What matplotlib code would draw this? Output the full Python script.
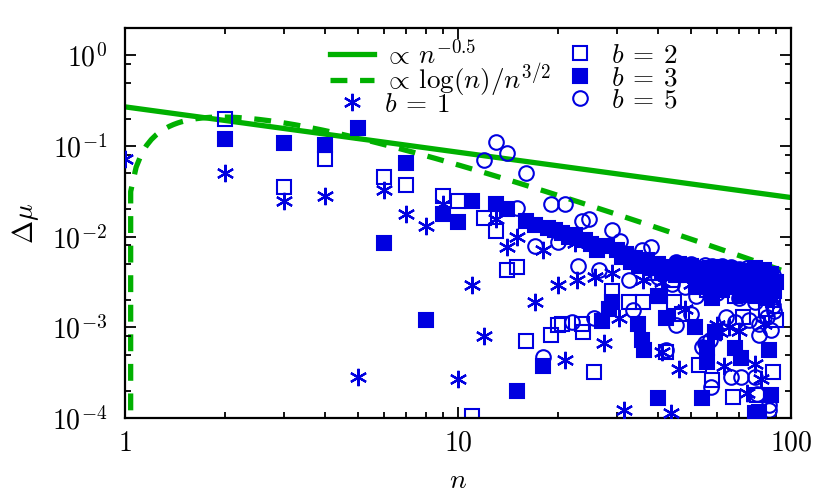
import numpy as np
import matplotlib
matplotlib.use('Agg')
import matplotlib.pyplot as plt
from matplotlib.ticker import LogLocator, NullFormatter, FixedLocator, FuncFormatter, LogFormatterSciNotation

plt.rcParams.update({
    'font.family': 'serif',
    'font.serif': ['cmr10'],
    'mathtext.fontset': 'cm',
    'axes.unicode_minus': False,
    'axes.formatter.use_mathtext': True,
})

# ---------------- data ----------------
# b = 1 (asterisks)
n_b1 = [1, 2, 3, 4, 5, 6, 7, 8, 9, 10, 11, 12, 13, 14, 15, 17, 18, 20, 21, 22.4,
        22.7, 25.6, 25.7, 27.5, 29, 30.5, 31.6, 36, 41, 41, 43.6, 46, 48, 50, 55, 60,
        61, 63, 64, 65, 70, 70, 74, 76, 78, 81, 83, 85, 88]
dmu_b1 = [0.071, 0.050, 0.025, 0.028, 0.00028, 0.033, 0.018, 0.013, 0.023, 0.00027,
          0.0029, 0.0008, 0.0155, 0.0077, 0.010, 0.0019, 0.0071, 0.0029, 0.00044, 0.0085,
          0.0033, 0.0078, 0.0036, 0.00068, 0.0040, 0.00126, 0.000123, 0.0033, 0.0032, 0.00053,
          0.000114, 0.00035, 0.0016, 0.0030, 0.0036, 0.00105, 0.00088, 0.00037, 0.0027, 0.0010,
          0.0035, 0.0009, 0.00019, 0.0026, 0.00039, 0.00027, 0.0011, 0.0030, 0.0020]

# b = 2 (open squares)
n_b2 = [2, 3, 4, 6, 7, 9, 10, 11, 12, 13, 14, 15, 16, 19, 20, 20.5, 23.5, 23.8, 25.6,
        29, 32.6, 36, 38, 40, 42, 44, 44.6, 47, 50, 53, 56, 58, 62, 67, 68, 72, 75, 79,
        82, 84, 88, 88, 90]
dmu_b2 = [0.20, 0.035, 0.071, 0.046, 0.037, 0.028, 0.0247, 0.000105, 0.016, 0.0115,
          0.0043, 0.0046, 0.0007, 0.00082, 0.00106, 0.0011, 0.0011, 0.00088, 0.00032,
          0.0025, 0.0019, 0.0019, 0.0040, 0.0022, 0.00053, 0.0033, 0.0019, 0.0014, 0.0041,
          0.00038, 0.0026, 0.00026, 0.0038, 0.00017, 0.0022, 0.0013, 0.0034, 0.00018,
          0.0027, 0.0016, 0.00032, 0.0020, 0.0012]

# b = 3 (filled squares)
n_b3 = [2, 3, 4, 5, 6, 7, 8, 9, 10, 11, 13, 14, 15, 16, 17, 18, 18.6, 19.5, 20.5,
        21.5, 22.4, 24, 25, 26.2, 27, 28, 28.5, 29, 30, 31, 32, 33, 34, 34.6, 35,
        35.7, 36.3, 37, 38, 39.8, 40, 40.5, 41, 42, 43, 45, 46, 47, 48, 49, 50, 51.5,
        52, 52, 53, 54, 54, 55, 56, 56, 56, 57, 58, 58, 59, 60, 61, 62, 62, 63, 64, 65,
        66, 67, 68, 68, 69, 70, 71, 71, 72, 73, 74, 75, 76, 77, 78, 78, 79, 79, 80, 80,
        81, 82, 83, 84, 84, 85, 86, 86, 87, 87, 88, 89, 90]
dmu_b3 = [0.119, 0.107, 0.102, 0.157, 0.0085, 0.065, 0.0012, 0.018, 0.0145, 0.0247,
          0.023, 0.020, 0.0002, 0.015, 0.0134, 0.00037, 0.0124, 0.0119, 0.011,
          0.0098, 0.0105, 0.0092, 0.0083, 0.0072, 0.00118, 0.0078, 0.0016, 0.0019, 0.0072,
          0.0060, 0.0065, 0.0052, 0.0058, 0.0011, 0.0048,
          0.00072, 0.00056, 0.0055, 0.0045, 0.000166, 0.0050, 0.0022, 0.0040, 0.00127,
          0.0046, 0.0038, 0.0050, 0.0045, 0.0043, 0.0038, 0.0047, 0.00101,
          0.0036, 0.0028, 0.0041, 0.0044, 0.000166, 0.0033, 0.0030, 0.00059, 0.00041,
          0.0045, 0.0041, 0.0021, 0.00088, 0.0046, 0.0039, 0.0034, 0.0026, 0.0031, 0.0040,
          0.0044, 0.0028, 0.0035, 0.0042, 0.00059, 0.0029, 0.0036, 0.00046, 0.0023,
          0.0025, 0.0042, 0.0039, 0.0036, 0.0032, 0.0027, 0.0045, 0.000113, 0.0022,
          0.0001, 0.0030, 0.000115, 0.0034, 0.0040, 0.0043, 0.0024, 0.0021, 0.0029,
          0.0035, 0.00056, 0.00018, 0.0039, 0.0028, 0.0025, 0.0032]

# b = 5 (open circles)
n_b5 = [12, 13, 14, 15, 16, 17, 18, 19, 20, 21, 22, 23, 23.6, 24.7, 25.6, 26.6, 29,
        30.6, 32.6, 33.5, 35.7, 38, 40, 42, 44, 45, 45, 47, 48, 50, 50, 52, 53, 54, 55,
        55, 57, 57.6, 58, 59, 60, 62, 64, 64, 66, 66, 68, 69, 70, 70, 71, 73, 74, 75,
        77, 78, 78, 79, 80, 80, 80, 82, 84, 85, 85, 86, 86, 86, 87, 88, 88, 89, 89]
dmu_b5 = [0.07, 0.11, 0.083, 0.0205, 0.05, 0.0079, 0.00047, 0.0228, 0.0087, 0.0228,
          0.00115, 0.0047, 0.015, 0.0155, 0.00126, 0.0043, 0.0118,
          0.0089, 0.0033, 0.00155, 0.0071, 0.0077, 0.0036, 0.00056, 0.0030, 0.0052, 0.00105,
          0.0041, 0.0028, 0.0050, 0.0014, 0.0022, 0.0035, 0.00061, 0.0049, 0.00068,
          0.00072, 0.00022, 0.0047, 0.0031, 0.0024, 0.0048, 0.0034, 0.0013, 0.0046, 0.00028,
          0.00115, 0.0032, 0.0044, 0.0021, 0.00028, 0.0028, 0.0045, 0.0012,
          0.0035, 0.00028, 0.0019, 0.000185, 0.0042, 0.00083, 0.0011, 0.0030, 0.0040,
          0.0023, 0.0013, 0.000123, 0.00014, 0.0027, 0.00093, 0.0038, 0.0017, 0.0015, 0.0031]

# amplitudes of the two reference curves
amp_sqrt = 0.27
amp_log = 0.85

# ---------------- plot ----------------
blue = '#0000e0'
green = '#00b000'

fig = plt.figure(figsize=(8.3, 4.98), dpi=100)
ax = fig.add_axes([125/830, 80/498, 666/830, 390/498])

n_th = np.arange(1.0, 100.02, 0.04)
l1, = ax.plot(n_th, amp_sqrt * n_th**-0.5, color=green, lw=3.8, zorder=1)
l2, = ax.plot(n_th, amp_log * np.log(n_th) / n_th**1.5, color=green, lw=3.8,
              ls=(0, (3.2, 2.4)), zorder=1)

ms = 10.5
h1, = ax.plot(n_b1, dmu_b1, ls='none', marker=(6, 2, 0), ms=12.5, mec=blue, mew=1.6,
              color=blue, zorder=3)
h2, = ax.plot(n_b2, dmu_b2, ls='none', marker='s', ms=ms, mfc='none', mec=blue, mew=1.5,
              zorder=2)
h5, = ax.plot(n_b5, dmu_b5, ls='none', marker='o', ms=ms, mfc='none', mec=blue, mew=1.5,
              zorder=2)
h3, = ax.plot(n_b3, dmu_b3, ls='none', marker='s', ms=ms, mfc=blue, mec=blue, mew=1.5,
              zorder=4)

ax.set_xscale('log')
ax.set_yscale('log')
ax.set_xlim(1, 100)
ax.set_ylim(1e-4, 2.0)

ax.xaxis.set_major_locator(FixedLocator([1, 10, 100]))
ax.xaxis.set_major_formatter(FuncFormatter(lambda v, p: '$%g$' % v))
ax.xaxis.set_minor_locator(LogLocator(base=10, subs=np.arange(2, 10), numticks=20))
ax.xaxis.set_minor_formatter(NullFormatter())

ax.yaxis.set_major_locator(LogLocator(base=10, numticks=20))
ax.yaxis.set_major_formatter(LogFormatterSciNotation())
ax.yaxis.set_minor_locator(LogLocator(base=10, subs=[2, 5, 8], numticks=20))
ax.yaxis.set_minor_formatter(NullFormatter())

ax.tick_params(which='both', direction='in', top=True, right=True, width=1.3,
               labelsize=20)
ax.tick_params(axis='x', which='major', pad=9)
ax.tick_params(axis='y', which='major', pad=13)
ax.tick_params(which='major', length=7.7)
ax.tick_params(which='minor', length=4.0)
for s in ax.spines.values():
    s.set_linewidth(1.6)

ax.set_xlabel('$n$', fontsize=20, labelpad=8)
ax.set_ylabel(r'$\Delta\mu$', fontsize=20, labelpad=8)

# legend: two columns placed independently so that their rows line up
leg1 = ax.legend([l1, l2, h1],
                 [r'$\propto\, n^{-0.5}$', r'$\propto\, \log(n)/n^{3/2}$', r'$b\:=\:1$'],
                 frameon=False, fontsize=19.5, loc='upper left',
                 bbox_to_anchor=(0.304, 0.983), handlelength=1.6, handletextpad=0.4,
                 labelspacing=-0.25, borderaxespad=0.0, borderpad=0.1)
ax.add_artist(leg1)
leg2 = ax.legend([h2, h3, h5],
                 [r'$b\:=\:2$', r'$b\:=\:3$', r'$b\:=\:5$'],
                 frameon=False, fontsize=19.5, loc='upper left',
                 bbox_to_anchor=(0.647, 0.967), handlelength=1.6, handletextpad=0.32,
                 labelspacing=-0.05, borderaxespad=0.0, borderpad=0.1)

fig.savefig('out.png', dpi=100)
